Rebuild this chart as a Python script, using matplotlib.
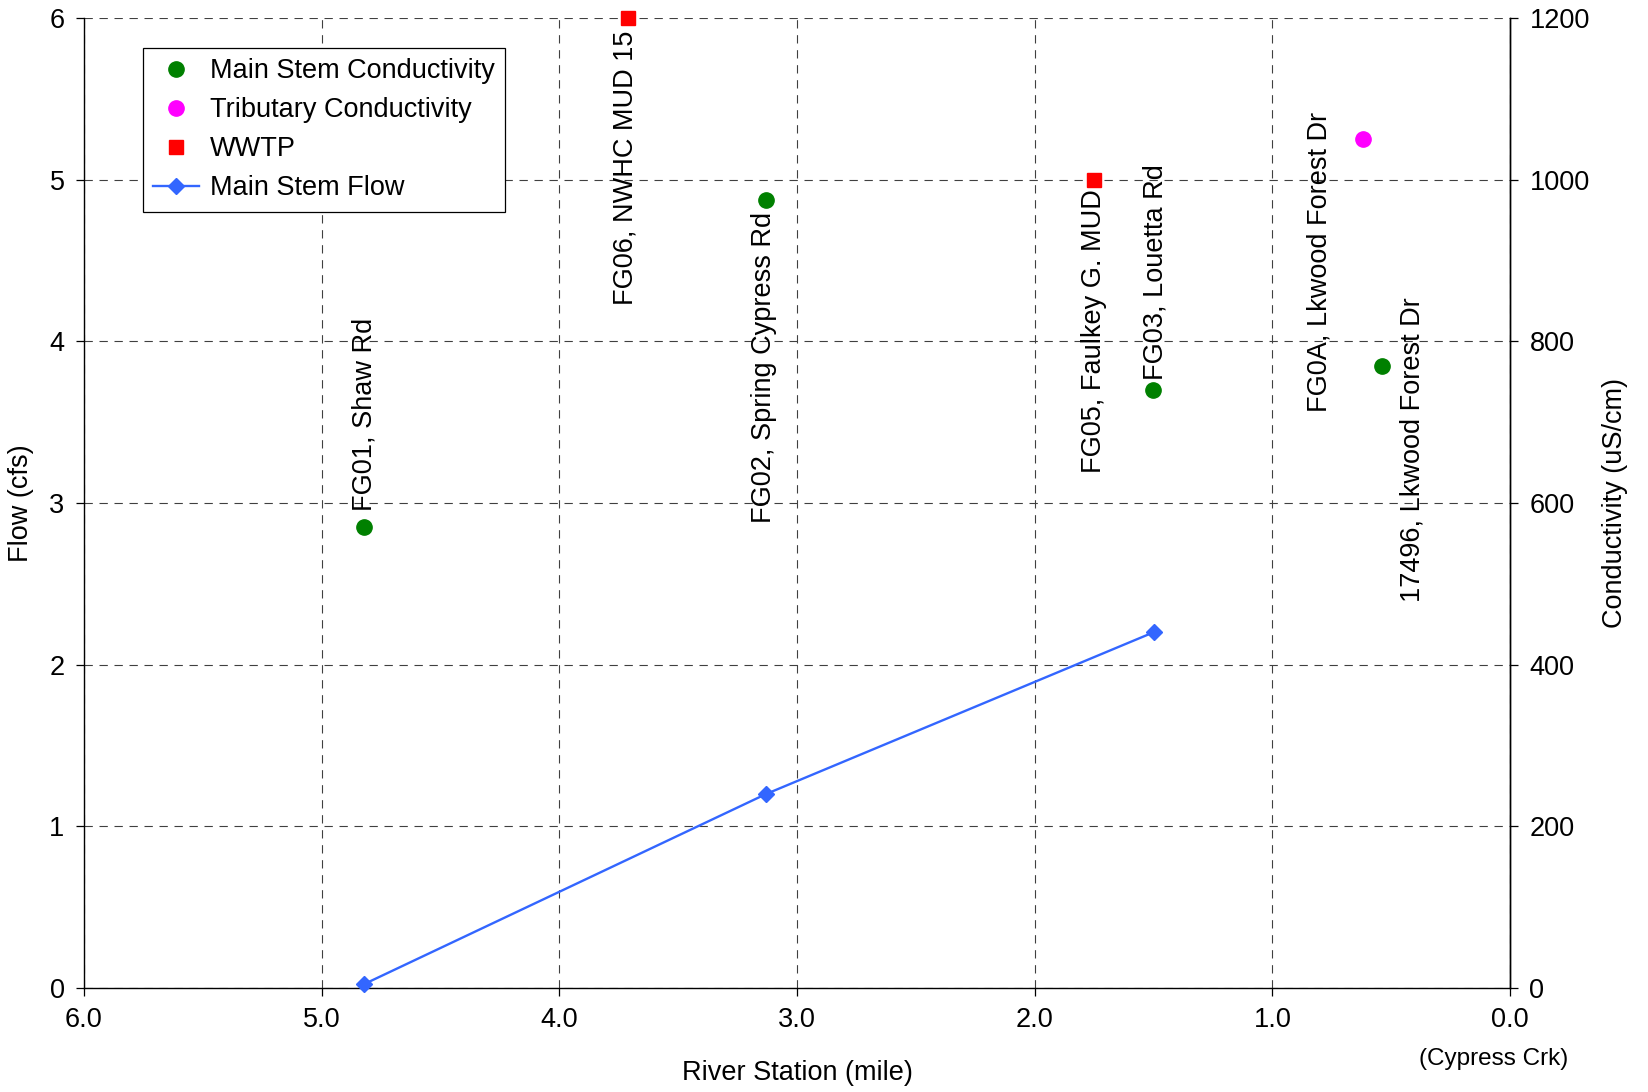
import matplotlib
matplotlib.use("Agg")
import matplotlib.pyplot as plt
from matplotlib.lines import Line2D

plt.rcParams['font.family'] = ['Liberation Sans', 'DejaVu Sans']

# ---- data ----
main_x = [4.82, 3.13, 1.50, 0.54]
main_cond = [570, 975, 740, 770]
trib_x = [0.62]
trib_cond = [1050]
wwtp_x = [3.71, 1.75]
wwtp_cond = [1200, 1000]
flow_x = [4.82, 3.13, 1.50]
flow_y = [0.025, 1.2, 2.2]

site_labels = ["FG01, Shaw Rd", "FG06, NWHC MUD 15", "FG02, Spring Cypress Rd",
               "FG05, Faulkey G. MUD", "FG03, Louetta Rd", "FG0A, Lkwood Forest Dr",
               "17496, Lkwood Forest Dr"]
label_x = [4.82, 3.72, 3.14, 1.75, 1.49, 0.80, 0.41]
label_base = [590, 845, 575, 637, 752, 712, 478]

x_ticks = [6, 5, 4, 3, 2, 1, 0]
x_ticklabels = ["6.0", "5.0", "4.0", "3.0", "2.0", "1.0", "0.0"]
flow_ticks = [0, 1, 2, 3, 4, 5, 6]
cond_ticks = [0, 200, 400, 600, 800, 1000, 1200]

FS = 19.5
fig = plt.figure(figsize=(16.48, 10.92), dpi=100)
ax1 = fig.add_axes([84/1648, 1-988/1092, 1426/1648, 970/1092])
ax2 = ax1.twinx()

ax1.set_xlim(6, 0)
ax1.set_ylim(0, 6)
ax2.set_ylim(0, 1200)

ax1.set_xticks(x_ticks)
ax1.set_xticklabels(x_ticklabels)
ax1.set_yticks(flow_ticks)
ax2.set_yticks(cond_ticks)

grid_kw = dict(color='#404040', linewidth=0.8, linestyle=(0, (7.5, 6)))
ax1.grid(True, which='major', axis='both', **grid_kw)
ax1.set_axisbelow(True)

for ax in (ax1, ax2):
    ax.spines['top'].set_visible(False)
    for s in ('left', 'right', 'bottom'):
        ax.spines[s].set_linewidth(1.0)
    ax.tick_params(direction='out', length=6, width=0.9, labelsize=FS, pad=8)
ax2.spines['left'].set_visible(False)
ax2.spines['bottom'].set_visible(False)

# flow
ax1.plot(flow_x, flow_y, color='#3366FF', linewidth=1.7, marker='D', markersize=8,
         zorder=3, clip_on=False)

# conductivity markers
ax2.plot(main_x, main_cond, linestyle='none', marker='o', markersize=11,
         color='#008000', clip_on=False, zorder=4)
ax2.plot(trib_x, trib_cond, linestyle='none', marker='o', markersize=11,
         color='#FF00FF', clip_on=False, zorder=4)
ax2.plot(wwtp_x, wwtp_cond, linestyle='none', marker='s', markersize=10.5,
         color='#FF0000', clip_on=False, zorder=4)

for txt, lx, ly in zip(site_labels, label_x, label_base):
    ax2.text(lx, ly, txt, rotation=90, ha='center', va='bottom', fontsize=FS)

# axis labels
fig.text(21/1648, 0.5*(1-988/1092) + 0.5*(1-18/1092), "Flow (cfs)", fontsize=19.5,
         rotation=90, ha='center', va='center')
fig.text(1615/1648, 0.5*(1-988/1092) + 0.5*(1-18/1092), "Conductivity (uS/cm)",
         fontsize=19.5, rotation=90, ha='center', va='center')
fig.text(759*1.051/1648, 1-1073/1092, "River Station (mile)", fontsize=FS,
         ha='center', va='center')
fig.text(1494/1648, 1-1059/1092, "(Cypress Crk)", fontsize=17.5, ha='center', va='center')

handles = [
    Line2D([], [], linestyle='none', marker='o', markersize=11, color='#008000'),
    Line2D([], [], linestyle='none', marker='o', markersize=11, color='#FF00FF'),
    Line2D([], [], linestyle='none', marker='s', markersize=10.5, color='#FF0000'),
    Line2D([], [], color='#3366FF', linewidth=1.7, marker='D', markersize=8),
]
labels = ["Main Stem Conductivity", "Tributary Conductivity", "WWTP", "Main Stem Flow"]
leg = ax2.legend(handles, labels, loc='upper left', bbox_to_anchor=(0.0414, 0.969),
                 borderaxespad=0, fontsize=FS, frameon=True, fancybox=False,
                 edgecolor='black', framealpha=1, handlelength=1.7, handletextpad=0.4,
                 labelspacing=0.48, borderpad=0.38)
leg.get_frame().set_linewidth(0.9)

fig.savefig("out.png", dpi=100)
